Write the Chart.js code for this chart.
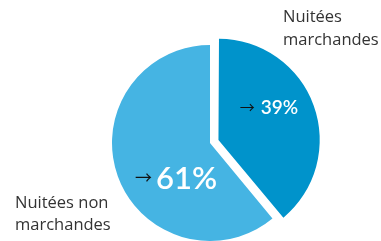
<!DOCTYPE html>
<html>
<head>
<meta charset="utf-8">
<script src="https://cdn.jsdelivr.net/npm/chart.js@4/dist/chart.umd.min.js"></script>
<style>
  html, body { margin: 0; padding: 0; background: #ffffff; }
  #wrap { width: 381px; height: 241px; position: relative; }
</style>
</head>
<body>
<div id="wrap"><canvas id="c" width="381" height="241"></canvas></div>
<script>
const categories = ["Nuitées marchandes", "Nuitées non marchandes"];
const values = [39, 61];
const valueLabels = ["39%", "61%"];
const colors = ["#0093CB", "#45B4E3"];

const labelPlugin = {
  id: 'labelPlugin',
  afterDraw(chart) {
    const ctx = chart.ctx;
    const meta = chart.getDatasetMeta(0);
    ctx.save();
    ctx.textBaseline = 'middle';
    // label anchors relative to each slice centre
    const rel = [[59, -36], [-34, 35]];
    meta.data.forEach((arc, i) => {
      const p = arc.getProps(['x', 'y']);
      const cx = p.x + rel[i][0];
      const cy = p.y + rel[i][1];
      const big = i === 1;
      const fs = big ? 31 : 19;
      const arrowFs = big ? 17 : 15;
      ctx.font = '600 ' + fs + 'px Lato';
      const tw = ctx.measureText(valueLabels[i]).width;
      ctx.font = '400 ' + arrowFs + 'px "Noto Sans CJK JP"';
      const aw = ctx.measureText('→').width;
      const gap = big ? 4 : 6;
      const total = aw + gap + tw;
      const x0 = cx - total / 2;
      ctx.fillStyle = '#111111';
      ctx.textAlign = 'left';
      ctx.fillText('→', x0, cy);
      ctx.font = '600 ' + fs + 'px Lato';
      ctx.fillStyle = '#ffffff';
      ctx.fillText(valueLabels[i], x0 + aw + gap, cy + 1);
    });
    // Category labels outside
    ctx.fillStyle = '#333333';
    ctx.font = '400 16.5px "Open Sans"';
    ctx.textAlign = 'left';
    ctx.fillText('Nuitées', 283, 17);
    ctx.fillText('marchandes', 283, 40);
    ctx.fillText('Nuitées non', 15, 203);
    ctx.fillText('marchandes', 15, 225);
    ctx.restore();
  }
};

new Chart(document.getElementById('c'), {
  type: 'pie',
  data: {
    labels: categories,
    datasets: [{
      data: values,
      backgroundColor: colors,
      borderWidth: 0,
      offset: [36, 0],
      clip: false
    }]
  },
  options: {
    responsive: false,
    animation: false,
    radius: 98,
    layout: { padding: { left: 39, right: 0, top: 45, bottom: 0 } },
    plugins: { legend: { display: false }, tooltip: { enabled: false } }
  },
  plugins: [labelPlugin]
});
</script>
</body>
</html>
